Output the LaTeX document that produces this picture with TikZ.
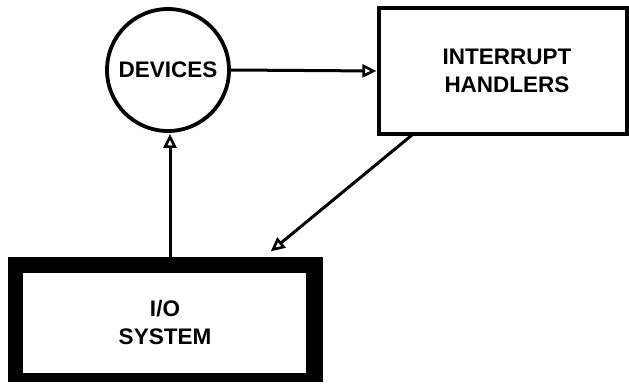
\documentclass[tikz,border=0pt]{standalone}
\usepackage{fontspec}
\setmainfont{Liberation Sans}
\usetikzlibrary{arrows.meta}
\tikzset{
  label/.style={font=\bfseries\fontsize{22.5}{28}\selectfont, align=center, text=black},
  link/.style={line width=3pt, -{Triangle[open, length=14pt, width=13pt, line width=2.6pt]}, shorten >=1pt},
}
\begin{document}
\begin{tikzpicture}[x=1pt, y=-1pt]
  \useasboundingbox (0,0) rectangle (629,388);
  \fill[white] (0,0) rectangle (629,388);

  % device circle
  \node[draw, line width=3.8pt, circle, minimum size=122pt, inner sep=0pt] (dev) at (168,70) {};
  \node[label] (devtext) at (168,70) {DEVICES};

  % interrupt handler box
  \node[draw, line width=3.2pt, minimum width=248pt, minimum height=126pt, inner sep=0pt] (ih) at (503,71) {};
  \node[label] (ihtext) at (507,71) {INTERRUPT\\HANDLERS};

  % I/O system box: heavy frame, thinner along the bottom
  \node[minimum width=315pt, minimum height=125pt, inner sep=0pt] (io) at (165.5,319.5) {};
  \fill[black] (io.north west) rectangle (io.south east);
  \fill[white] (23,273) rectangle (306,373);
  \node[label] (iotext) at (165,322) {I/O\\SYSTEM};

  % connectors
  \coordinate (iofoot) at (170,258);
  \coordinate (ihfoot) at (412,135);
  \coordinate (iotarget) at (270,252);
  \draw[link] (dev.east) -- (ih.west);
  \draw[link] (iofoot) -- (dev.south -| iofoot);
  \draw[link] (ihfoot) -- (iotarget);
\end{tikzpicture}
\end{document}
